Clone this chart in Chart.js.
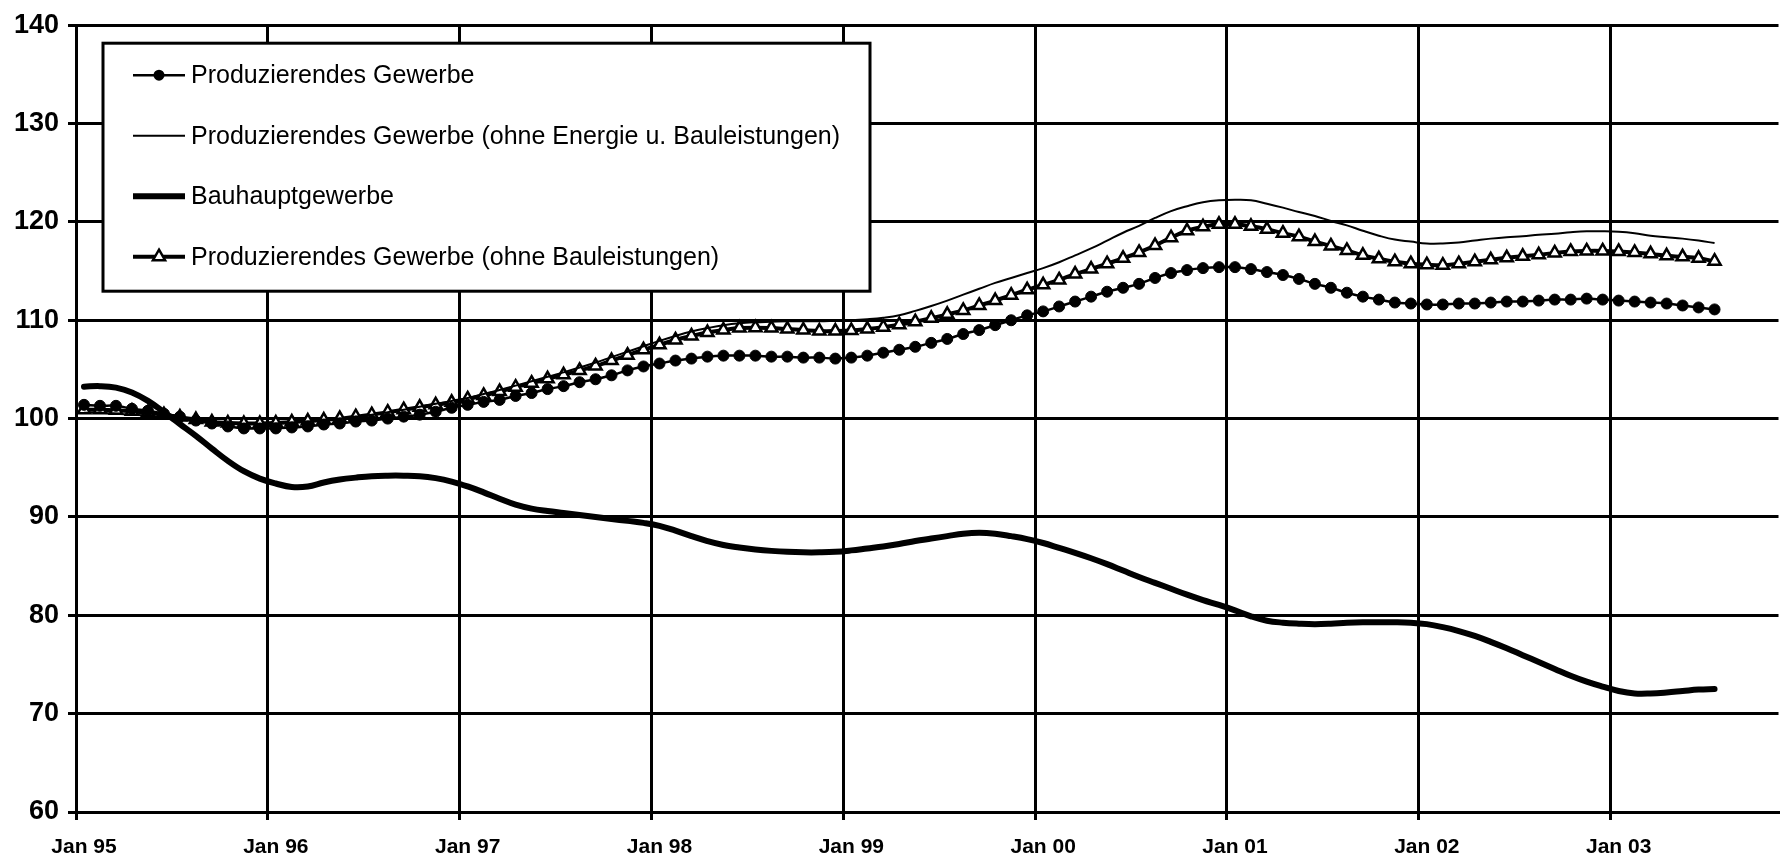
<!DOCTYPE html>
<html>
<head>
<meta charset="utf-8">
<script src="https://cdn.jsdelivr.net/npm/chart.js@4.4.1/dist/chart.umd.min.js"></script>
<style>
  body { margin: 0; background: #fff; }
  #wrap { width: 1788px; height: 857px; position: relative; }
</style>
</head>
<body>
<div id="wrap"><canvas id="myChart"></canvas></div>
<script>
// monthly index values Jan 95 .. Jul 03 (103 months), 1995 = 100
var tickMonths = [0, 12, 24, 36, 48, 60, 72, 84, 96];
var tickLabels = ['Jan 95', 'Jan 96', 'Jan 97', 'Jan 98', 'Jan 99', 'Jan 00', 'Jan 01', 'Jan 02', 'Jan 03'];

var seriesNames = [
  'Produzierendes Gewerbe',
  'Produzierendes Gewerbe (ohne Energie u. Bauleistungen)',
  'Bauhauptgewerbe',
  'Produzierendes Gewerbe (ohne Bauleistungen)'
];

var prodGewerbe = [
  101.4, 101.3, 101.3, 101.0, 100.8, 100.5, 100.2, 99.8, 99.5, 99.2,
  99.0, 99.0, 99.0, 99.1, 99.2, 99.4, 99.5, 99.7, 99.8, 100.0,
  100.2, 100.4, 100.7, 101.1, 101.4, 101.7, 101.9, 102.3, 102.6, 103.0,
  103.3, 103.7, 104.0, 104.4, 104.9, 105.3, 105.6, 105.9, 106.1, 106.3,
  106.4, 106.4, 106.4, 106.3, 106.3, 106.2, 106.2, 106.1, 106.2, 106.4,
  106.7, 107.0, 107.3, 107.7, 108.1, 108.6, 109.0, 109.5, 110.0, 110.5,
  110.9, 111.4, 111.9, 112.4, 112.9, 113.3, 113.7, 114.3, 114.8, 115.1,
  115.3, 115.4, 115.4, 115.2, 114.9, 114.6, 114.2, 113.7, 113.3, 112.8,
  112.4, 112.1, 111.8, 111.7, 111.6, 111.6, 111.7, 111.7, 111.8, 111.9,
  111.9, 112.0, 112.1, 112.1, 112.2, 112.1, 112.0, 111.9, 111.8, 111.7,
  111.5, 111.3, 111.1
];

var ohneEnergieBau = [
  100.6, 100.6, 100.5, 100.4, 100.3, 100.1, 99.9, 99.7, 99.6, 99.5,
  99.45, 99.45, 99.5, 99.6, 99.7, 99.85, 100.0, 100.2, 100.4, 100.65,
  100.9, 101.2, 101.5, 101.8, 102.1, 102.5, 102.9, 103.35, 103.8, 104.25,
  104.7, 105.2, 105.7, 106.25, 106.8, 107.35, 107.9, 108.4, 108.85, 109.2,
  109.5, 109.7, 109.8, 109.85, 109.9, 109.9, 109.9, 109.95, 110.0, 110.1,
  110.25, 110.5, 110.95, 111.45, 112.0, 112.6, 113.2, 113.8, 114.3, 114.8,
  115.3, 115.9, 116.6, 117.3, 118.1, 118.9, 119.6, 120.4, 121.1, 121.6,
  122.0, 122.2, 122.25, 122.2, 121.85, 121.45, 121.0, 120.6, 120.1, 119.65,
  119.1, 118.6, 118.2, 118.0, 117.8, 117.8, 117.9, 118.1, 118.3, 118.45,
  118.55, 118.7, 118.8, 118.95, 119.05, 119.05, 119.0, 118.85, 118.6, 118.45,
  118.3, 118.1, 117.85
];

var bauhaupt = [
  103.25, 103.3, 103.15, 102.65, 101.8, 100.65, 99.45, 98.25, 96.95, 95.7,
  94.65, 93.9, 93.4, 93.05, 93.1, 93.5, 93.8, 94.0, 94.15, 94.2,
  94.2, 94.15, 93.95, 93.6, 93.1, 92.5, 91.85, 91.25, 90.85, 90.6,
  90.4, 90.2, 90.0, 89.8, 89.6, 89.4, 89.1, 88.6, 88.05, 87.55,
  87.15, 86.9, 86.7, 86.55, 86.45, 86.4, 86.4, 86.45, 86.6, 86.8,
  87.0, 87.25, 87.55, 87.8, 88.05, 88.3, 88.4, 88.3, 88.05, 87.75,
  87.35, 86.85, 86.35, 85.8, 85.2, 84.55, 83.9, 83.3, 82.7, 82.1,
  81.55, 81.05, 80.5, 79.9, 79.45, 79.25, 79.15, 79.1, 79.15, 79.25,
  79.3, 79.3, 79.3, 79.25, 79.1, 78.8, 78.4, 77.9, 77.3, 76.65,
  75.95, 75.25, 74.55, 73.85, 73.25, 72.75, 72.3, 72.05, 72.05, 72.15,
  72.3, 72.45, 72.5
];

var ohneBau = [
  100.9, 100.9, 100.85, 100.75, 100.6, 100.4, 100.15, 99.9, 99.65, 99.55,
  99.5, 99.5, 99.55, 99.65, 99.75, 99.85, 100.0, 100.2, 100.4, 100.65,
  100.9, 101.15, 101.4, 101.65, 102.0, 102.35, 102.75, 103.2, 103.6, 104.05,
  104.45, 104.9, 105.35, 105.9, 106.45, 107.0, 107.5, 108.0, 108.4, 108.75,
  109.0, 109.2, 109.25, 109.2, 109.1, 109.0, 108.9, 108.9, 108.95, 109.1,
  109.3, 109.55, 109.85, 110.2, 110.6, 111.0, 111.5, 112.0, 112.55, 113.1,
  113.6, 114.1, 114.7, 115.2, 115.75, 116.3, 116.9, 117.6, 118.4, 119.1,
  119.5, 119.75, 119.75, 119.55, 119.25, 118.85, 118.5, 118.0, 117.55, 117.1,
  116.6, 116.25, 115.95, 115.75, 115.65, 115.6, 115.75, 115.95, 116.15, 116.35,
  116.5, 116.65, 116.85, 117.0, 117.05, 117.05, 117.0, 116.9, 116.75, 116.55,
  116.45, 116.3, 116.0
];

var legendFont = '25px "Liberation Sans"';

// every point sits in the middle of its month
function toPoints(values) {
  return values.map(function (v, i) { return { x: i + 0.5, y: v }; });
}

// legend drawn as a framed box inside the plot, like the original
var boxLegend = {
  id: 'boxLegend',
  afterDraw: function (chart) {
    var ctx = chart.ctx, area = chart.chartArea;
    var left = area.left + 27, top = area.top + 18, w = 767, h = 248;
    ctx.save();
    ctx.fillStyle = '#fff';
    ctx.fillRect(left, top, w, h);
    ctx.lineWidth = 3;
    ctx.strokeStyle = '#000';
    ctx.strokeRect(left, top, w, h);
    ctx.font = legendFont;
    ctx.textBaseline = 'middle';
    chart.data.datasets.forEach(function (ds, i) {
      var y = top + 32 + i * 60.5;
      var cx = left + 56;
      ctx.strokeStyle = '#000';
      ctx.lineWidth = ds.borderWidth;
      ctx.beginPath();
      ctx.moveTo(left + 30, y);
      ctx.lineTo(left + 82, y);
      ctx.stroke();
      if (ds.pointStyle === 'circle' && ds.pointRadius > 0) {
        ctx.fillStyle = '#000';
        ctx.beginPath();
        ctx.arc(cx, y, ds.pointRadius, 0, Math.PI * 2);
        ctx.fill();
      } else if (ds.pointStyle === 'triangle') {
        var r = ds.pointRadius;
        ctx.fillStyle = '#fff';
        ctx.lineWidth = ds.pointBorderWidth;
        ctx.beginPath();
        ctx.moveTo(cx, y - r);
        ctx.lineTo(cx + r * 0.866, y + r * 0.5);
        ctx.lineTo(cx - r * 0.866, y + r * 0.5);
        ctx.closePath();
        ctx.fill();
        ctx.stroke();
      }
      ctx.fillStyle = '#000';
      ctx.fillText(ds.label, left + 88, y + 1);
    });
    ctx.restore();
  }
};

var ctx = document.getElementById('myChart').getContext('2d');
var chart = new Chart(ctx, {
  type: 'line',
  data: {
    datasets: [{
      label: seriesNames[0],
      data: toPoints(prodGewerbe),
      borderColor: '#000',
      borderWidth: 2.5,
      pointStyle: 'circle',
      pointRadius: 5.5,
      pointBackgroundColor: '#000',
      pointBorderColor: '#000',
      pointBorderWidth: 1,
      tension: 0.4
    }, {
      label: seriesNames[1],
      data: toPoints(ohneEnergieBau),
      borderColor: '#000',
      borderWidth: 2,
      pointRadius: 0,
      tension: 0.4
    }, {
      label: seriesNames[2],
      data: toPoints(bauhaupt),
      borderColor: '#000',
      borderWidth: 6,
      borderCapStyle: 'round',
      pointRadius: 0,
      tension: 0.4
    }, {
      label: seriesNames[3],
      data: toPoints(ohneBau),
      borderColor: '#000',
      borderWidth: 4,
      pointStyle: 'triangle',
      pointRadius: 7,
      pointBackgroundColor: '#fff',
      pointBorderColor: '#000',
      pointBorderWidth: 2.5,
      tension: 0.4
    }]
  },
  options: {
    responsive: true,
    maintainAspectRatio: false,
    animation: false,
    layout: { padding: { top: 20, right: 0, bottom: 0, left: 0 } },
    plugins: {
      legend: { display: false },
      tooltip: { enabled: false }
    },
    scales: {
      x: {
        type: 'linear',
        min: 0,
        max: 106.5,
        afterBuildTicks: function (scale) {
          scale.ticks = tickMonths.map(function (v) { return { value: v }; });
        },
        afterFit: function (scale) { scale.height = 45; },
        grid: { color: '#000', lineWidth: 3, tickLength: 8, tickColor: '#000', tickWidth: 3 },
        border: { color: '#000', width: 3 },
        ticks: {
          autoSkip: false,
          maxRotation: 0,
          labelOffset: 8,
          padding: 15,
          color: '#000',
          font: { family: '"Liberation Sans"', size: 21, weight: 'bold' },
          callback: function (value) {
            var k = tickMonths.indexOf(value);
            return k < 0 ? '' : tickLabels[k];
          }
        }
      },
      y: {
        min: 60,
        max: 140,
        afterFit: function (scale) { scale.width = 76; },
        grid: { color: '#000', lineWidth: 3, tickLength: 8, tickColor: '#000', tickWidth: 3 },
        border: { color: '#000', width: 3 },
        ticks: {
          stepSize: 10,
          padding: 9,
          color: '#000',
          font: { family: '"Liberation Sans"', size: 27, weight: 'bold' }
        }
      }
    }
  },
  plugins: [boxLegend]
});
</script>
</body>
</html>
